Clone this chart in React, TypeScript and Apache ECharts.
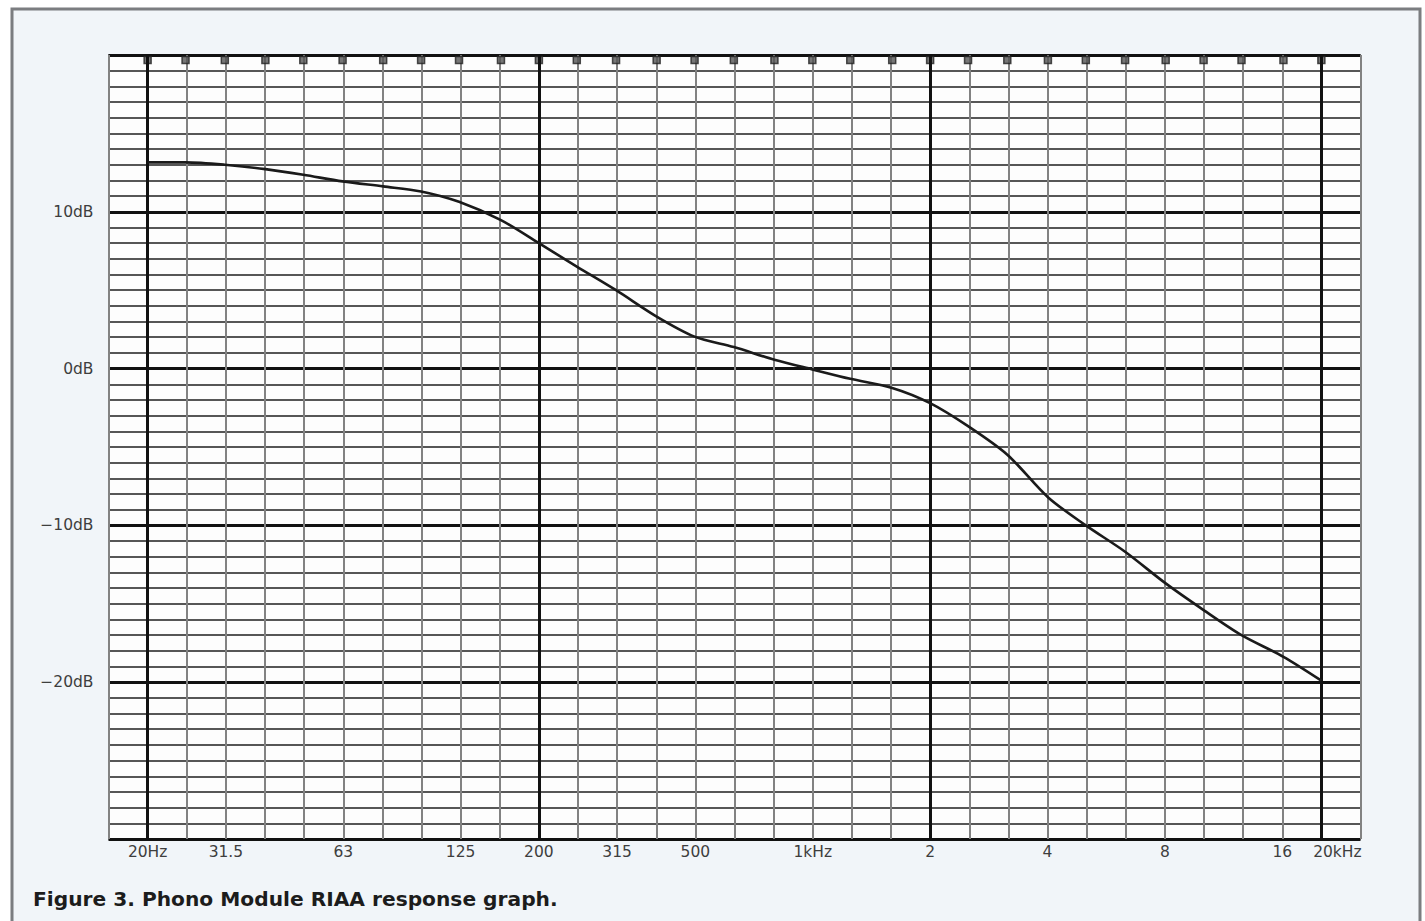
import React, { useEffect, useRef } from "react";
import * as echarts from "echarts";

// Frequency (Hz) of each 1/3-octave grid line
const freqHz = [
  20, 25, 31.5, 40, 50, 63, 80, 100, 125, 160, 200, 250, 315, 400, 500, 630, 800,
  1000, 1250, 1600, 2000, 2500, 3150, 4000, 5000, 6300, 8000, 10000, 12500, 16000, 20000,
];
// Response (dB)
const gainDb = [
  13.15, 13.15, 13.0, 12.72, 12.36, 11.94, 11.62, 11.3, 10.64, 9.47, 8.0, 6.51, 5.0, 3.32,
  2.04, 1.37, 0.57, -0.05, -0.65, -1.23, -2.2, -3.67, -5.49, -8.2, -10.0, -11.68, -13.7,
  -15.4, -17.0, -18.38, -19.9,
];
// X tick labels
const tickFreqs = [20, 31.5, 63, 125, 200, 315, 500, 1000, 2000, 4000, 8000, 16000, 20000];
const tickLabels = ["20Hz", "31.5", "63", "125", "200", "315", "500", "1kHz", "2", "4", "8", "16", "20kHz"];
// Decade lines (heavy)
const decadeFreqs = [20, 200, 2000, 20000];
// Y labels shown
const dbLabels = [10, 0, -10, -20];
const markerLevel = 19.68;

const REF = 20;
const toIdx = (f: number) => 10 * Math.log10(f / REF);

export default function App() {
  const ref = useRef<HTMLDivElement>(null);
  useEffect(() => {
    if (!ref.current) return;
    const chart = echarts.init(ref.current, undefined, { renderer: "svg" });
    const labelMap: Record<number, string> = {};
    tickFreqs.forEach((f, i) => {
      labelMap[Math.round(toIdx(f))] = tickLabels[i];
    });
    const curve = freqHz.map((f, i) => [toIdx(f), gainDb[i]]);
    const markers = freqHz.map((f) => [toIdx(f), markerLevel]);
    const font = "DejaVu Sans";
    const labelColor = "#3e3e3e";
    chart.setOption({
      animation: false,
      backgroundColor: "#ffffff",
      graphic: [
        {
          type: "rect",
          z: -10,
          shape: { x: 12, y: 9, width: 1408, height: 930 },
          style: { fill: "#f1f5f9", stroke: "#7b7d80", lineWidth: 3 },
        },
        {
          type: "text",
          left: 33,
          top: 889,
          style: {
            text: "Figure 3. Phono Module RIAA response graph.",
            fontFamily: "DejaVu Sans",
            fontWeight: "bold",
            fontSize: 20.2,
            fill: "#1c1c1c",
          },
        },
      ],
      grid: {
        left: 108.5,
        top: 55,
        width: 1252,
        height: 784,
        show: true,
        backgroundColor: "#fdfdfd",
        borderWidth: 0,
      },
      xAxis: {
        type: "value",
        min: -1,
        max: 31,
        interval: 1,
        axisLine: { show: false },
        axisTick: { show: false },
        splitLine: { show: true, lineStyle: { color: "#828282", width: 2 } },
        axisLabel: {
          margin: 5,
          fontFamily: font,
          fontSize: 15.5,
          color: labelColor,
          formatter: (v: number) => {
            const s = labelMap[Math.round(v)];
            if (!s) return "";
            if (Math.round(v) === 30) return "{r|" + s + "}";
            return s;
          },
          rich: {
            r: { fontFamily: font, fontSize: 15.5, color: labelColor, padding: [0, 0, 0, 32] },
          },
        },
      },
      yAxis: [
        {
          type: "value",
          min: -30,
          max: 20,
          interval: 1,
          axisLine: { show: false },
          axisTick: { show: false },
          axisLabel: { show: false },
          splitLine: { show: true, lineStyle: { color: "#1e1e1e", width: 1.6 } },
        },
        {
          type: "value",
          position: "left",
          min: -30,
          max: 20,
          interval: 10,
          axisLine: { show: false },
          axisTick: { show: false },
          splitLine: { show: true, lineStyle: { color: "#111111", width: 3 } },
          axisLabel: {
            margin: 15,
            fontFamily: font,
            fontSize: 15.5,
            color: labelColor,
            formatter: (v: number) => {
              if (dbLabels.indexOf(v) < 0) return "";
              return (v < 0 ? "\u2212" + Math.abs(v) : String(v)) + "dB";
            },
          },
        },
      ],
      series: [
        {
          type: "scatter",
          yAxisIndex: 0,
          z: 3,
          data: markers,
          symbol: "rect",
          symbolSize: [7, 7],
          itemStyle: { color: "#555555", borderColor: "#222222", borderWidth: 1.5 },
          silent: true,
          markLine: {
            silent: true,
            symbol: "none",
            label: { show: false },
            lineStyle: { color: "#111111", width: 3, type: "solid" },
            data: decadeFreqs.map((f) => ({ xAxis: toIdx(f) })),
          },
        },
        {
          type: "line",
          yAxisIndex: 0,
          z: 5,
          data: curve,
          smooth: 0.3,
          showSymbol: false,
          lineStyle: { color: "#1a1a1a", width: 2.6 },
        },
      ],
    });
    return () => chart.dispose();
  }, []);
  return (
    <div
      ref={ref}
      style={{ position: "absolute", left: 0, top: 0, width: 1425, height: 921 }}
    />
  );
}
